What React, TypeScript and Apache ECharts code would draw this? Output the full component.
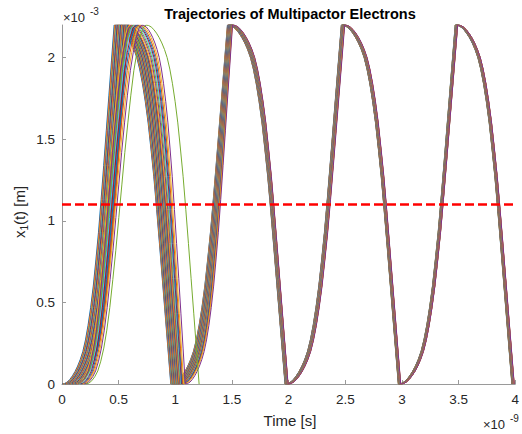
import React, { useEffect, useRef } from 'react';
import * as echarts from 'echarts';

// MATLAB default colour order
const COLORS = ['#0072BD', '#D95319', '#EDB120', '#7E2F8E', '#77AC30', '#4DBEEE', '#A2142F'];

// axis ticks (time in ns, position in mm; exponents drawn as ×10^-9 / ×10^-3)
const X_TICKS = [0, 0.5, 1, 1.5, 2, 2.5, 3, 3.5, 4];
const Y_TICKS = [0, 0.5, 1, 1.5, 2];
const GAP = 2.2;
const THRESHOLD = 1.1;

// shape of one gap crossing (fraction of flight time -> position in mm)
const SHAPE_F = [0, 0.05, 0.1, 0.15, 0.2, 0.25, 0.3, 0.35, 0.4, 0.45, 0.5, 0.55, 0.6, 0.65, 0.7, 0.75, 0.8, 0.85, 0.9, 0.95, 1];
const RISE_X = [0, 0.003, 0.012, 0.028, 0.05, 0.077, 0.11, 0.15, 0.2, 0.27, 0.36, 0.47, 0.6, 0.76, 0.93, 1.13, 1.34, 1.555, 1.77, 1.985, 2.2];
// first crossing of the late electrons: they arrive with nearly zero velocity
const ARC_X = [0, 0.005, 0.02, 0.045, 0.08, 0.14, 0.22, 0.33, 0.47, 0.64, 0.82, 1.02, 1.22, 1.42, 1.6, 1.77, 1.92, 2.03, 2.12, 2.18, 2.2];

// first-flight kind per electron (0 = hits wall fast, 1 = arrives slowly)
const KIND = [
  0, 0, 0, 0, 0, 0, 0, 0, 0, 0, 0, 0, 0, 0, 0, 0, 0, 0, 0, 0,
  0, 0, 0, 0, 0, 0, 0, 0, 0, 0, 1, 1, 1, 1, 1, 1, 1, 1, 1, 1,
];

// wall-impact times (ns) for every electron
const T0 = [
  0.000, 0.005, 0.009, 0.013, 0.018, 0.022, 0.026, 0.031, 0.035, 0.039,
  0.043, 0.048, 0.052, 0.056, 0.061, 0.065, 0.069, 0.073, 0.078, 0.082,
  0.086, 0.091, 0.095, 0.099, 0.103, 0.108, 0.112, 0.116, 0.120, 0.125,
  0.130, 0.138, 0.146, 0.154, 0.162, 0.170, 0.178, 0.186, 0.195, 0.210,
];
const TOP1 = [
  0.460, 0.465, 0.470, 0.474, 0.479, 0.483, 0.487, 0.492, 0.496, 0.500,
  0.504, 0.509, 0.513, 0.517, 0.522, 0.526, 0.530, 0.534, 0.539, 0.543,
  0.547, 0.552, 0.556, 0.560, 0.564, 0.569, 0.573, 0.577, 0.581, 0.586,
  0.600, 0.612, 0.625, 0.638, 0.650, 0.662, 0.675, 0.690, 0.705, 0.740,
];
const BOT1 = [
  0.960, 0.962, 0.965, 0.967, 0.970, 0.972, 0.975, 0.977, 0.980, 0.982,
  0.985, 0.987, 0.990, 0.992, 0.995, 0.997, 1.000, 1.002, 1.005, 1.007,
  1.010, 1.012, 1.015, 1.017, 1.020, 1.022, 1.025, 1.027, 1.030, 1.032,
  1.036, 1.040, 1.045, 1.050, 1.055, 1.060, 1.066, 1.074, 1.088, 1.210,
];
const TOP2 = [
  1.460, 1.461, 1.462, 1.464, 1.465, 1.466, 1.467, 1.469, 1.470, 1.471,
  1.472, 1.474, 1.475, 1.476, 1.477, 1.479, 1.480, 1.481, 1.482, 1.484,
  1.485, 1.486, 1.487, 1.489, 1.490, 1.491, 1.492, 1.493, 1.494, 1.495,
  1.496, 1.497, 1.498, 1.499, 1.500, 1.501, 1.502, 1.503, 1.505, null,
];
const BOT2 = [
  1.968, 1.969, 1.970, 1.970, 1.971, 1.972, 1.973, 1.973, 1.974, 1.975,
  1.976, 1.976, 1.977, 1.978, 1.979, 1.979, 1.980, 1.981, 1.982, 1.982,
  1.983, 1.984, 1.985, 1.985, 1.986, 1.987, 1.988, 1.988, 1.989, 1.990,
  1.990, 1.991, 1.992, 1.992, 1.993, 1.993, 1.994, 1.994, 1.995, null,
];
const TOP3 = [
  2.465, 2.466, 2.467, 2.467, 2.468, 2.469, 2.470, 2.470, 2.471, 2.472,
  2.473, 2.473, 2.474, 2.475, 2.476, 2.476, 2.477, 2.478, 2.479, 2.479,
  2.480, 2.481, 2.482, 2.482, 2.483, 2.484, 2.485, 2.485, 2.486, 2.487,
  2.488, 2.488, 2.489, 2.490, 2.491, 2.491, 2.492, 2.493, 2.495, null,
];
const BOT3 = [
  2.968, 2.969, 2.969, 2.970, 2.970, 2.971, 2.971, 2.972, 2.973, 2.973,
  2.974, 2.974, 2.975, 2.975, 2.976, 2.976, 2.977, 2.978, 2.978, 2.979,
  2.979, 2.980, 2.980, 2.981, 2.981, 2.982, 2.983, 2.983, 2.984, 2.984,
  2.985, 2.985, 2.986, 2.986, 2.987, 2.987, 2.988, 2.988, 2.989, null,
];
const TOP4 = [
  3.470, 3.471, 3.471, 3.472, 3.472, 3.473, 3.474, 3.474, 3.475, 3.475,
  3.476, 3.477, 3.477, 3.478, 3.478, 3.479, 3.480, 3.480, 3.481, 3.481,
  3.482, 3.483, 3.483, 3.484, 3.484, 3.485, 3.486, 3.486, 3.487, 3.487,
  3.488, 3.489, 3.489, 3.490, 3.490, 3.491, 3.491, 3.492, 3.492, null,
];
const BOT4 = [
  3.970, 3.971, 3.971, 3.972, 3.972, 3.973, 3.973, 3.974, 3.975, 3.975,
  3.976, 3.976, 3.977, 3.977, 3.978, 3.978, 3.979, 3.980, 3.980, 3.981,
  3.981, 3.982, 3.982, 3.983, 3.983, 3.984, 3.985, 3.985, 3.986, 3.986,
  3.987, 3.987, 3.988, 3.988, 3.989, 3.989, 3.990, 3.990, 3.991, null,
];

const EVENTS = [T0, TOP1, BOT1, TOP2, BOT2, TOP3, BOT3, TOP4, BOT4];

function buildTrajectory(i: number): number[][] {
  const pts: number[][] = [];
  for (let k = 0; k < EVENTS.length - 1; k++) {
    const a = EVENTS[k][i];
    const b = EVENTS[k + 1][i];
    if (a == null || b == null) break;
    const rising = k % 2 === 0;
    const shape = k === 0 && KIND[i] === 1 ? ARC_X : RISE_X;
    for (let j = 0; j < SHAPE_F.length; j++) {
      if (k > 0 && j === 0) continue;
      const t = a + SHAPE_F[j] * (b - a);
      const v = rising ? shape[j] : GAP - RISE_X[j];
      pts.push([t, v]);
    }
  }
  return pts;
}

const FONT = '"Liberation Sans", Arial, Helvetica, sans-serif';

export default function App() {
  const ref = useRef<HTMLDivElement>(null);
  useEffect(() => {
    if (!ref.current) return;
    const chart = echarts.init(ref.current, undefined, { renderer: 'svg' });
    const series: any[] = T0.map((_, i) => ({
      type: 'line',
      data: buildTrajectory(i),
      showSymbol: false,
      symbol: 'none',
      lineStyle: { width: 1, color: COLORS[i % COLORS.length] },
      z: 2,
      silent: true,
    }));
    series.push({
      type: 'line',
      data: [[0, THRESHOLD], [4, THRESHOLD]],
      showSymbol: false,
      symbol: 'none',
      lineStyle: { width: 2.5, color: '#FF0000', type: [9, 4] },
      z: 3,
      silent: true,
    });
    chart.setOption({
      animation: false,
      backgroundColor: '#ffffff',
      grid: { left: 62, right: 3, top: 25, bottom: 50, containLabel: false },
      xAxis: {
        type: 'value',
        min: 0,
        max: 4,
        interval: 0.5,
        splitLine: { show: false },
        axisLine: { show: true, lineStyle: { color: '#9a9a9a', width: 1 } },
        axisTick: { show: true, inside: true, length: 4, lineStyle: { color: '#9a9a9a' }, customValues: X_TICKS },
        axisLabel: { color: '#262626', fontSize: 13.5, fontFamily: FONT, margin: 8, customValues: X_TICKS },
      },
      yAxis: {
        type: 'value',
        min: 0,
        max: GAP,
        interval: 0.5,
        splitLine: { show: false },
        axisLine: { show: true, lineStyle: { color: '#9a9a9a', width: 1 } },
        axisTick: { show: true, inside: true, length: 4, lineStyle: { color: '#9a9a9a' }, customValues: Y_TICKS },
        axisLabel: { color: '#262626', fontSize: 13.5, fontFamily: FONT, margin: 7, customValues: Y_TICKS },
      },
      graphic: [
        {
          type: 'text', x: 290, y: 14,
          style: { text: 'Trajectories of Multipactor Electrons', fill: '#000', font: `bold 14.5px ${FONT}`, textAlign: 'center', textVerticalAlign: 'middle' },
        },
        {
          type: 'text', x: 63, y: 17,
          style: { text: '×10', fill: '#262626', font: `13px ${FONT}`, textAlign: 'left', textVerticalAlign: 'middle' },
        },
        {
          type: 'text', x: 90, y: 11,
          style: { text: '-3', fill: '#262626', font: `10px ${FONT}`, textAlign: 'left', textVerticalAlign: 'middle' },
        },
        {
          type: 'text', x: 483, y: 424,
          style: { text: '×10', fill: '#262626', font: `13px ${FONT}`, textAlign: 'left', textVerticalAlign: 'middle' },
        },
        {
          type: 'text', x: 510, y: 418,
          style: { text: '-9', fill: '#262626', font: `10px ${FONT}`, textAlign: 'left', textVerticalAlign: 'middle' },
        },
        {
          type: 'text', x: 290, y: 420,
          style: { text: 'Time [s]', fill: '#262626', font: `15px ${FONT}`, textAlign: 'center', textVerticalAlign: 'middle' },
        },
        {
          type: 'text', x: 19, y: 212, rotation: Math.PI / 2,
          style: {
            text: '{a|x}{b|1}{a|(t) [m]}',
            fill: '#262626',
            textAlign: 'center',
            textVerticalAlign: 'middle',
            rich: {
              a: { fontSize: 15, fontFamily: FONT, fill: '#262626', lineHeight: 20 },
              b: { fontSize: 10, fontFamily: FONT, fill: '#262626', verticalAlign: 'bottom' },
            },
          },
        },
      ],
      series,
    });
    return () => chart.dispose();
  }, []);
  return <div ref={ref} style={{ position: 'fixed', left: 0, top: 0, width: 522, height: 434 }} />;
}
